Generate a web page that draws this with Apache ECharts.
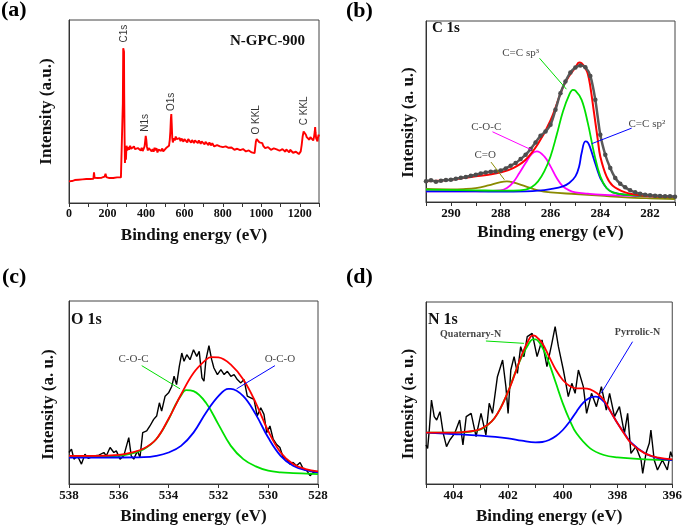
<!DOCTYPE html>
<html><head><meta charset="utf-8">
<script src="https://cdn.jsdelivr.net/npm/echarts@6/dist/echarts.min.js"></script>
<style>html,body{margin:0;padding:0;background:#fff}#c{width:685px;height:526px}</style>
</head><body><div id="c"></div>
<script>
const SERIF = 'Liberation Serif', SANS = 'Liberation Sans';

// ---------- (a) survey spectrum [binding energy eV, intensity a.u.] ----------
const surveyData = [[0,65],[8,68],[15,66],[22,70],[30,69],[40,71],[50,70],[60,72],[70,71],[80,73],[90,72],[100,73],[110,72],[120,74],[127,73],[130,92],[133,76],[140,74],[150,75],[160,74],[170,76],[180,75],[185,79],[190,88],[194,78],[200,76],[210,75],[220,77],[230,75],[240,76],[250,77],[260,76],[270,77],[277,78],[280,300],[282,465],[284,467],[286,455],[287,330],[289,200],[291,120],[293,150],[296,130],[299,172],[303,158],[308,168],[313,160],[318,172],[323,163],[328,168],[333,158],[338,170],[343,162],[348,168],[353,157],[358,165],[363,160],[368,168],[373,158],[378,166],[383,156],[388,163],[393,170],[396,185],[399,202],[402,190],[405,170],[410,158],[415,165],[420,160],[425,168],[430,155],[435,162],[440,154],[445,166],[450,158],[455,165],[460,152],[465,160],[470,155],[475,163],[480,157],[485,164],[490,155],[495,160],[500,157],[505,165],[510,160],[515,167],[520,172],[524,190],[527,215],[530,255],[532,267],[534,240],[537,195],[540,182],[545,195],[550,188],[555,200],[560,192],[565,198],[570,188],[575,195],[580,186],[585,194],[590,190],[595,184],[600,192],[605,186],[610,190],[615,182],[620,192],[625,186],[630,190],[635,181],[640,189],[645,184],[650,180],[655,188],[660,183],[665,186],[670,180],[675,188],[680,182],[685,178],[690,185],[695,179],[700,183],[705,176],[710,184],[715,178],[720,181],[725,174],[730,182],[735,176],[740,173],[745,180],[750,174],[755,170],[760,176],[765,170],[770,174],[775,168],[780,173],[785,170],[790,166],[795,172],[800,168],[805,171],[810,165],[815,170],[820,164],[825,171],[830,166],[835,168],[840,162],[845,167],[850,163],[855,166],[860,160],[865,165],[870,161],[875,163],[880,158],[885,163],[890,159],[895,162],[900,156],[905,162],[910,158],[915,160],[920,155],[925,160],[930,154],[935,158],[940,153],[945,157],[950,152],[955,156],[960,151],[965,150],[968,165],[972,185],[976,192],[980,186],[985,190],[990,182],[995,186],[1000,178],[1005,180],[1010,172],[1015,168],[1020,165],[1025,170],[1030,164],[1035,168],[1040,162],[1045,167],[1050,160],[1055,165],[1060,158],[1065,164],[1070,160],[1075,166],[1080,161],[1085,158],[1090,164],[1095,157],[1100,160],[1105,155],[1110,162],[1115,156],[1120,160],[1125,154],[1130,161],[1135,155],[1140,158],[1145,152],[1150,160],[1155,154],[1160,157],[1165,151],[1170,155],[1175,150],[1180,154],[1185,149],[1190,152],[1195,147],[1200,150],[1205,155],[1210,175],[1215,200],[1220,215],[1224,218],[1228,212],[1232,205],[1236,198],[1240,192],[1245,197],[1250,190],[1255,198],[1260,192],[1265,195],[1270,188],[1274,198],[1278,215],[1280,228],[1282,212],[1285,195],[1288,190],[1292,185],[1295,198],[1298,205],[1300,200]];
const surveyPeaks = [[285,509,'C1s'],[398,241,'N1s'],[534,304,'O1s'],[974,250,'O KKL'],[1224,277,'C KKL']];

// ---------- (b) C 1s ----------
const c1sRaw = [[291.0,62],[290.8,65],[290.6,61],[290.4,64],[290.2,66],[290.0,67],[289.8,70],[289.6,73],[289.4,75],[289.2,79],[289.0,82],[288.8,86],[288.6,89],[288.4,91],[288.2,92],[288.0,95],[287.8,101],[287.6,109],[287.4,117],[287.2,129],[287.0,142],[286.8,159],[286.6,179],[286.4,199],[286.2,212],[286.0,232],[285.8,277],[285.6,327],[285.4,362],[285.2,389],[285.0,404],[284.8,410],[284.6,405],[284.4,379],[284.2,307],[284.0,202],[283.8,142],[283.6,102],[283.4,72],[283.2,55],[283.0,44],[282.8,35],[282.6,29],[282.4,25],[282.2,22],[282.0,20],[281.8,19],[281.6,18],[281.4,17],[281.2,17],[281.0,16]];
const c1sFit = [[291,62],[290.5,64],[290,67],[289.5,72],[289,77],[288.5,82],[288,89],[287.5,102],[287,127],[286.5,175],[286,245],[285.5,345],[285.25,379],[285,404],[284.85,419],[284.75,417],[284.6,402],[284.5,385],[284.4,347],[284.25,267],[284.1,187],[284,137],[283.75,77],[283.5,49],[283,29],[282.5,21],[282,17],[281,15]];
const c1sSp3 = [[291,37],[289,35],[288,34],[287.5,34],[287,37],[286.75,45],[286.5,62],[286.25,92],[286,137],[285.75,202],[285.5,272],[285.25,322],[285.1,337],[285,335],[284.75,307],[284.5,237],[284.25,147],[284,77],[283.75,42],[283.5,29],[283,22],[282,17],[281,15]];
const c1sSp2 = [[291,32],[289,32],[288,31],[287,32],[286.5,34],[286,39],[285.5,47],[285.25,57],[285,77],[284.85,107],[284.75,147],[284.6,182],[284.5,179],[284.4,162],[284.25,127],[284.1,92],[284,72],[283.75,42],[283.5,29],[283,22],[282,18],[281,16]];
const c1sCOC = [[291,32],[289,32],[288.5,33],[288,35],[287.75,42],[287.5,59],[287.25,87],[287,117],[286.75,145],[286.55,152],[286.25,137],[286,107],[285.75,72],[285.5,47],[285.25,35],[285,29],[284.5,25],[284,22],[283,19],[282,17],[281,15]];
const c1sCO = [[291,39],[290,38],[289.5,39],[289,42],[288.5,50],[288,60],[287.75,62],[287.5,59],[287,47],[286.5,35],[286,29],[285,24],[284,19],[283,14],[282,11],[281,9]];
const c1sLabels = [[287.2,448,'C=C sp³'],[288.58,226,'C-O-C'],[288.62,140,'C=O'],[282.13,235,'C=C sp²']];
const c1sArrows = [[286.44,432,285.36,339,'#00dd00'],[288.33,211,286.77,157,'#ff00ff'],[288.39,120,287.85,67,'#8a8a00'],[282.74,222,284.35,175,'#0000ff']];

// ---------- (c) O 1s ----------
const o1sRaw = [[538.0,95],[537.9,105],[537.8,75],[537.66,85],[537.5,60],[537.36,90],[537.22,77],[537.0,85],[536.8,87],[536.6,95],[536.5,85],[536.35,110],[536.2,95],[536.1,100],[535.95,75],[535.8,85],[535.6,140],[535.5,85],[535.4,75],[535.25,100],[535.15,80],[535.04,155],[534.88,160],[534.75,175],[534.6,195],[534.48,205],[534.37,245],[534.28,220],[534.14,265],[534.0,275],[533.87,295],[533.78,325],[533.68,300],[533.57,355],[533.47,395],[533.38,370],[533.27,390],[533.14,375],[533.0,405],[532.87,385],[532.77,400],[532.66,320],[532.58,310],[532.5,375],[532.38,417],[532.27,375],[532.18,350],[532.04,330],[531.9,345],[531.77,330],[531.64,340],[531.5,325],[531.37,330],[531.24,315],[531.1,305],[530.97,315],[530.84,265],[530.7,260],[530.57,255],[530.44,205],[530.3,230],[530.17,210],[530.06,155],[529.93,175],[529.8,135],[529.67,120],[529.53,110],[529.4,80],[529.26,75],[529.13,60],[529.0,65],[528.86,55],[528.72,65],[528.59,45],[528.45,40],[528.32,25],[528.19,35],[528.0,37]];
const o1sFit = [[538,85],[537,85],[536,88],[535.5,95],[535,107],[534.5,135],[534,197],[533.5,270],[533,335],[532.5,375],[532.3,383],[532,382],[531.5,360],[531,315],[530.5,245],[530,160],[529.5,95],[529,60],[528.5,45],[528,38]];
const o1sCOC = [[538,83],[537,83],[536,85],[535.5,92],[535,105],[534.5,135],[534,195],[533.75,235],[533.5,267],[533.3,283],[533,280],[532.5,245],[532,180],[531.5,115],[531,75],[530.5,53],[530,40],[529.5,35],[529,33],[528,30]];
const o1sOCO = [[538,80],[536,80],[535,81],[534.5,85],[534,95],[533.5,115],[533,155],[532.5,215],[532,265],[531.6,287],[531.5,287],[531,265],[530.5,210],[530,140],[529.5,85],[529,55],[528.5,42],[528,35]];
const o1sLabels = [[535.41,378,'C-O-C'],[529.53,378,'O-C-O']];
const o1sLines = [[535.08,357,533.54,287,'#00dd00'],[529.73,357,531.27,287,'#0000ff']];

// ---------- (d) N 1s ----------
const n1sRaw = [[405.0,117],[404.94,107],[404.88,162],[404.8,252],[404.7,202],[404.61,192],[404.49,217],[404.37,152],[404.25,112],[404.13,132],[403.95,152],[403.77,192],[403.65,117],[403.53,202],[403.35,212],[403.17,142],[402.99,212],[402.81,147],[402.69,242],[402.57,212],[402.39,322],[402.2,372],[402.08,292],[402.0,212],[401.9,342],[401.78,382],[401.66,332],[401.54,412],[401.42,382],[401.3,442],[401.12,452],[400.94,382],[400.76,432],[400.58,352],[400.4,422],[400.28,472],[400.16,412],[399.98,342],[399.8,262],[399.67,302],[399.55,272],[399.43,342],[399.25,292],[399.13,212],[398.95,272],[398.77,232],[398.59,292],[398.41,222],[398.29,272],[398.11,202],[397.93,232],[397.75,152],[397.63,212],[397.51,92],[397.33,112],[397.14,72],[397.08,32],[396.96,92],[396.84,122],[396.78,162],[396.66,72],[396.54,42],[396.36,72],[396.18,42],[396.06,97],[396.0,82]];
const n1sFit = [[405,154],[404,154],[403.5,157],[403,165],[402.5,197],[402,277],[401.5,387],[401.25,432],[401.1,446],[401,444],[400.75,422],[400.5,382],[400.25,342],[400,312],[399.75,294],[399.5,287],[399.25,287],[399,284],[398.75,272],[398.5,252],[398.25,217],[398,182],[397.75,150],[397.5,122],[397,92],[396.5,79],[396,74]];
const n1sQuat = [[405,154],[404,154],[403.5,156],[403,164],[402.75,177],[402.5,197],[402.25,232],[402,277],[401.75,332],[401.5,382],[401.25,420],[401.1,434],[401,434],[400.75,410],[400.5,362],[400.25,302],[400,242],[399.75,192],[399.5,152],[399,107],[398.5,87],[398,80],[397,74],[396,72]];
const n1sPyrr = [[405,154],[404,150],[403,145],[402,137],[401.5,130],[401,125],[400.75,126],[400.5,132],[400.25,144],[400,162],[399.75,187],[399.5,217],[399.25,244],[399,259],[398.8,262],[398.5,247],[398.25,217],[398,182],[397.75,152],[397.5,124],[397,92],[396.5,77],[396,72]];
const n1sLabels = [[403.37,450,'Quaternary-N'],[397.27,456,'Pyrrolic-N']];
const n1sLines = [[402.81,429,401.42,422,'#00dd00'],[397.45,427,398.6,272,'#0000ff']];

// ---------- build ----------
const grids = [
  {left:69, top:20, width:250, height:183},
  {left:426, top:21, width:249, height:181},
  {left:69, top:301, width:249, height:184},
  {left:426, top:302, width:249, height:182}
].map(g => Object.assign({show:true, borderColor:'#444', borderWidth:1, backgroundColor:'rgba(0,0,0,0)'}, g));

function xAx(i, min, max, interval, labelStep, fs, gap) {
  return {
    type:'value', gridIndex:i, min, max, interval, inverse: i > 0,
    axisLine:{show:true, onZero:false, lineStyle:{color:'#333', width:1}},
    axisTick:{show:true, length:4, lineStyle:{color:'#333'}},
    axisLabel:{margin:5, fontFamily:SERIF, fontWeight:'bold', fontSize:fs, color:'#111',
      hideOverlap:false, formatter: v => (Math.round(v) % labelStep === 0 ? String(Math.round(v)) : '')},
    splitLine:{show:false},
    name:'Binding energy (eV)', nameLocation:'middle', nameGap:gap,
    nameTextStyle:{fontFamily:SERIF, fontWeight:'bold', fontSize:17, color:'#111'}
  };
}
function yAx(i, max, name, gap, pad) {
  return {
    type:'value', gridIndex:i, min:0, max,
    axisLine:{show:true, onZero:false, lineStyle:{color:'#333', width:1}},
    axisTick:{show:false}, axisLabel:{show:false}, splitLine:{show:false},
    name, nameLocation:'middle', nameGap:gap,
    nameTextStyle:{fontFamily:SERIF, fontWeight:'bold', fontSize:17, color:'#111', padding:[0, pad, 0, 0]}
  };
}
function line(i, data, color, width, smooth) {
  return {type:'line', xAxisIndex:i, yAxisIndex:i, data, symbol:'none', smooth: smooth,
    lineStyle:{color, width}, itemStyle:{color}, silent:true, z:3};
}
function textSeries(i, items, style) {
  return {type:'scatter', xAxisIndex:i, yAxisIndex:i, symbolSize:1, silent:true, z:6,
    itemStyle:{color:'rgba(0,0,0,0)'},
    data: items.map(d => ({value:[d[0], d[1]], name:d[2]})),
    label: Object.assign({show:true, position:'inside', formatter:'{b}', color:'#111'}, style)};
}
function arrowSeries(i, items, arrow) {
  return {type:'line', xAxisIndex:i, yAxisIndex:i, data:[], silent:true, z:5,
    markLine:{silent:true, animation:false, symbol: arrow ? ['none','arrow'] : ['none','none'],
      symbolSize: arrow ? [0, 7] : 0, label:{show:false},
      data: items.map(d => [{coord:[d[0], d[1]], lineStyle:{color:d[4], width:1, type:'solid'}}, {coord:[d[2], d[3]]}])}};
}

const option = {
  animation:false,
  grid: grids,
  xAxis: [
    xAx(0, 0, 1300, 100, 200, 12, 24),
    xAx(1, 281, 291, 1, 2, 13, 22),
    xAx(2, 528, 538, 2, 2, 13, 24),
    xAx(3, 396, 405, 1, 2, 13, 24)
  ],
  yAxis: [
    yAx(0, 550, 'Intensity (a.u.)', 14, 0),
    yAx(1, 544, 'Intensity (a. u.)', 9, 22),
    yAx(2, 552, 'Intensity (a. u.)', 12, 24),
    yAx(3, 546, 'Intensity (a. u.)', 9, 22)
  ],
  series: [
    line(0, surveyData, '#ff0000', 1.9, false),
    textSeries(0, surveyPeaks, {rotate:90, fontFamily:SANS, fontSize:10, color:'#000'}),

    line(1, c1sCO, '#8a8a00', 1.8, 0.4),
    line(1, c1sCOC, '#ff00ff', 1.8, 0.4),
    line(1, c1sSp2, '#0000ff', 1.8, 0.4),
    line(1, c1sSp3, '#00e000', 1.8, 0.4),
    line(1, c1sFit, '#ff0000', 2, 0.4),
    {type:'line', xAxisIndex:1, yAxisIndex:1, data:c1sRaw, symbol:'circle', symbolSize:4.5, showSymbol:true,
      smooth:0.3, lineStyle:{color:'#5a5a5a', width:2.5}, itemStyle:{color:'#4d4d4d', borderWidth:0},
      silent:true, z:4},
    textSeries(1, c1sLabels, {fontFamily:SERIF, fontSize:11}),
    arrowSeries(1, c1sArrows, true),

    line(2, o1sRaw, '#000000', 1.4, false),
    line(2, o1sCOC, '#00e000', 1.8, 0.4),
    line(2, o1sOCO, '#0000ff', 1.8, 0.4),
    line(2, o1sFit, '#ff0000', 1.8, 0.4),
    textSeries(2, o1sLabels, {fontFamily:SERIF, fontSize:11}),
    arrowSeries(2, o1sLines, false),

    line(3, n1sRaw, '#000000', 1.4, false),
    line(3, n1sQuat, '#00e000', 1.8, 0.4),
    line(3, n1sPyrr, '#0000ff', 1.8, 0.4),
    line(3, n1sFit, '#ff0000', 1.8, 0.4),
    textSeries(3, n1sLabels, {fontFamily:SERIF, fontSize:10, fontWeight:'bold'}),
    arrowSeries(3, n1sLines, true)
  ],
  graphic: [
    {type:'text', left:1, top:-1, style:{text:'(a)', font:'bold 22px "Liberation Serif"', fill:'#000'}},
    {type:'text', left:346, top:0, style:{text:'(b)', font:'bold 22px "Liberation Serif"', fill:'#000'}},
    {type:'text', left:2, top:266, style:{text:'(c)', font:'bold 22px "Liberation Serif"', fill:'#000'}},
    {type:'text', left:346, top:266, style:{text:'(d)', font:'bold 22px "Liberation Serif"', fill:'#000'}},
    {type:'text', left:230, top:34, style:{text:'N-GPC-900', font:'bold 15px "Liberation Serif"', fill:'#111'}},
    {type:'text', left:432, top:21, style:{text:'C 1s', font:'bold 15px "Liberation Serif"', fill:'#111'}},
    {type:'text', left:71, top:312, style:{text:'O 1s', font:'bold 16px "Liberation Serif"', fill:'#111'}},
    {type:'text', left:428, top:312, style:{text:'N 1s', font:'bold 16px "Liberation Serif"', fill:'#111'}}
  ]
};
const chart = echarts.init(document.getElementById('c'));
chart.setOption(option);
</script>
</body></html>
